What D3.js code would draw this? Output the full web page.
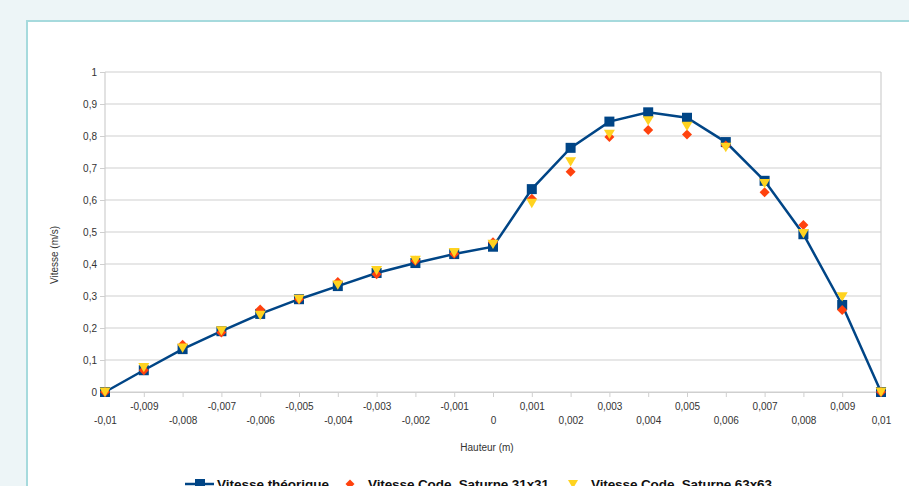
<!DOCTYPE html>
<html><head><meta charset="utf-8">
<script src="https://cdn.jsdelivr.net/npm/d3@7"></script>
<style>
html,body{margin:0;padding:0;background:#edf5f7;}
svg{display:block;}
text{font-family:"Liberation Sans",Arial,sans-serif;}
</style></head>
<body><svg id="c" width="909" height="486"></svg>
<script>
const categories = ["-0,01","-0,009","-0,008","-0,007","-0,006","-0,005","-0,004","-0,003","-0,002","-0,001","0","0,001","0,002","0,003","0,004","0,005","0,006","0,007","0,008","0,009","0,01"];
const theorique = [0,0.068,0.134,0.19,0.244,0.29,0.331,0.372,0.403,0.431,0.454,0.634,0.763,0.845,0.874,0.857,0.781,0.660,0.493,0.272,0];
const saturne31 = [0,0.068,0.148,0.186,0.258,0.29,0.344,0.368,0.41,0.432,0.468,0.604,0.688,0.797,0.819,0.805,0.77,0.624,0.522,0.256,0];
const saturne63 = [0,0.077,0.138,0.192,0.24,0.29,0.335,0.38,0.412,0.436,0.462,0.59,0.72,0.806,0.848,0.831,0.765,0.652,0.496,0.298,0];
const yTicks = [0,0.1,0.2,0.3,0.4,0.5,0.6,0.7,0.8,0.9,1];
const seriesNames = ["Vitesse théorique","Vitesse Code_Saturne 31x31","Vitesse Code_Saturne 63x63"];

const svg = d3.select("#c");
// panel
svg.append("rect").attr("x",0).attr("y",0).attr("width",909).attr("height",486).attr("fill","#edf5f7");
svg.append("rect").attr("x",27).attr("y",21).attr("width",900).attr("height",480).attr("fill","#fff")
  .attr("stroke","#a6dadd").attr("stroke-width",2);

const L=105,R=881,T=72,B=392;
const x = d3.scalePoint().domain(categories).range([L,R]);
const y = d3.scaleLinear().domain([0,1]).range([B,T]);
const fmt = v => String(v).replace(".",",");

// grid
svg.append("g").selectAll("line").data(yTicks).join("line")
  .attr("x1",L).attr("x2",R).attr("y1",d=>y(d)).attr("y2",d=>y(d))
  .attr("stroke","#cfcfcf").attr("stroke-width",1.2);
svg.append("line").attr("x1",R).attr("x2",R).attr("y1",T).attr("y2",B).attr("stroke","#cfcfcf").attr("stroke-width",1.2);
svg.append("line").attr("x1",L).attr("x2",L).attr("y1",T).attr("y2",B).attr("stroke","#cfcfcf").attr("stroke-width",1.2);

// y axis
const ya = svg.append("g").attr("transform",`translate(${L},0)`)
  .call(d3.axisLeft(y).tickValues(yTicks).tickFormat(fmt).tickSize(5).tickPadding(3));
ya.select(".domain").remove();
ya.selectAll("line").attr("stroke","#cfcfcf");
ya.selectAll("text").attr("fill","#333").style("font-size","10px").style("font-family","Liberation Sans, Arial, sans-serif");

// x axis
const xa = svg.append("g").attr("transform",`translate(0,${B})`)
  .call(d3.axisBottom(x).tickSize(5).tickPadding(6));
xa.select(".domain").attr("stroke","#cfcfcf");
xa.selectAll("line").attr("stroke","#cfcfcf");
xa.selectAll("text").attr("fill","#333").style("font-size","10px").style("font-family","Liberation Sans, Arial, sans-serif")
  .attr("dy",(d,i)=> i%2===0 ? "2.1em" : "0.71em");

// axis titles
svg.append("text").attr("x",487).attr("y",451).attr("text-anchor","middle").attr("fill","#333").style("font-size","10px").text("Hauteur (m)");
svg.append("text").attr("transform","translate(58,255) rotate(-90)").attr("text-anchor","middle").attr("fill","#333").style("font-size","10px").text("Vitesse (m/s)");

const blue="#004586", red="#ff420e", yellow="#ffd320";
// line
svg.append("path").datum(theorique).attr("fill","none").attr("stroke",blue).attr("stroke-width",2.5)
  .attr("d",d3.line().x((d,i)=>x(categories[i])).y(d=>y(d)));
// squares
svg.append("g").selectAll("rect").data(theorique).join("rect")
  .attr("x",(d,i)=>x(categories[i])-5).attr("y",d=>y(d)-5).attr("width",10).attr("height",10).attr("fill",blue);
// diamonds
const diamond = (cx,cy,s)=>`M${cx},${cy-s}L${cx+s},${cy}L${cx},${cy+s}L${cx-s},${cy}Z`;
svg.append("g").selectAll("path").data(saturne31).join("path")
  .attr("d",(d,i)=>diamond(x(categories[i]),y(d),5)).attr("fill",red);
// triangles down
const tri = (cx,cy,s)=>`M${cx-s},${cy-s*0.8}L${cx+s},${cy-s*0.8}L${cx},${cy+s*0.9}Z`;
svg.append("g").selectAll("path").data(saturne63).join("path")
  .attr("d",(d,i)=>tri(x(categories[i]),y(d),5.5)).attr("fill",yellow);

// legend
const lg = svg.append("g").style("font-size","13.5px").style("font-weight","bold").attr("fill","#111");
const ly = 484;
lg.append("line").attr("x1",185).attr("x2",214).attr("y1",ly).attr("y2",ly).attr("stroke",blue).attr("stroke-width",2.5);
lg.append("rect").attr("x",195).attr("y",ly-5).attr("width",10).attr("height",10).attr("fill",blue);
lg.append("text").attr("x",217).attr("y",ly+5).attr("textLength",112).text(seriesNames[0]);
lg.append("path").attr("d",diamond(350,ly,4.5)).attr("fill",red);
lg.append("text").attr("x",368).attr("y",ly+5).attr("textLength",181).text(seriesNames[1]);
lg.append("path").attr("d",tri(573,ly,5)).attr("fill",yellow);
lg.append("text").attr("x",591).attr("y",ly+5).attr("textLength",181).text(seriesNames[2]);
</script></body></html>
